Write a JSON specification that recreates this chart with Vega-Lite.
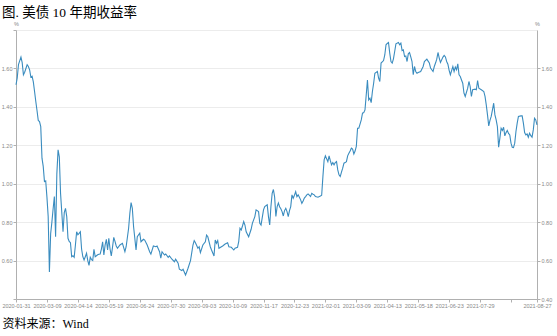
{
  "$schema": "https://vega.github.io/schema/vega-lite/v6.json",
  "width": 521,
  "height": 269,
  "autosize": {"type": "none"},
  "padding": {"left": 16, "top": 30, "right": 20, "bottom": 37},
  "background": "white",
  "title": {
    "text": "图. 美债 10 年期收益率",
    "anchor": "start",
    "frame": "group",
    "dx": -14,
    "offset": 2,
    "fontSize": 13.5,
    "font": "Liberation Serif, Noto Sans CJK SC",
    "fontWeight": "normal",
    "color": "#000000"
  },
  "config": {
    "view": {"stroke": null},
    "axis": {
      "labelFont": "Liberation Sans",
      "labelFontSize": 5.5,
      "labelColor": "#888888",
      "domainColor": "#b0b0b0",
      "tickColor": "#b0b0b0",
      "tickSize": 3,
      "gridColor": "#ececec",
      "gridWidth": 1
    }
  },
  "data": {
    "values": [
      {"day":0,"yield":1.515},{"day":1,"yield":1.55},{"day":2,"yield":1.62},{"day":4,"yield":1.659},{"day":5,"yield":1.63},{"day":6,"yield":1.567},{"day":7,"yield":1.58},{"day":9,"yield":1.619},{"day":10,"yield":1.61},{"day":11,"yield":1.593},{"day":12,"yield":1.555},{"day":13,"yield":1.56},{"day":14,"yield":1.53},{"day":15,"yield":1.48},{"day":16,"yield":1.428},{"day":17,"yield":1.38},{"day":18,"yield":1.329},{"day":19,"yield":1.323},{"day":20,"yield":1.297},{"day":21,"yield":1.133},{"day":22,"yield":1.09},{"day":23,"yield":1.011},{"day":24,"yield":1.015},{"day":25,"yield":0.93},{"day":26,"yield":0.829},{"day":27,"yield":0.54},{"day":28,"yield":0.74},{"day":29,"yield":0.8},{"day":30,"yield":0.87},{"day":31,"yield":0.933},{"day":32,"yield":0.724},{"day":33,"yield":1.05},{"day":34,"yield":1.176},{"day":35,"yield":1.14},{"day":36,"yield":0.95},{"day":37,"yield":0.85},{"day":38,"yield":0.75},{"day":39,"yield":0.85},{"day":40,"yield":0.872},{"day":41,"yield":0.829},{"day":42,"yield":0.716},{"day":43,"yield":0.7},{"day":44,"yield":0.693},{"day":45,"yield":0.62},{"day":46,"yield":0.625},{"day":47,"yield":0.617},{"day":48,"yield":0.68},{"day":49,"yield":0.75},{"day":50,"yield":0.735},{"day":51,"yield":0.742},{"day":52,"yield":0.75},{"day":53,"yield":0.66},{"day":54,"yield":0.62},{"day":55,"yield":0.603},{"day":56,"yield":0.62},{"day":57,"yield":0.638},{"day":58,"yield":0.6},{"day":59,"yield":0.575},{"day":60,"yield":0.617},{"day":61,"yield":0.605},{"day":62,"yield":0.6},{"day":63,"yield":0.659},{"day":64,"yield":0.62},{"day":65,"yield":0.625},{"day":66,"yield":0.63},{"day":67,"yield":0.633},{"day":68,"yield":0.634},{"day":69,"yield":0.66},{"day":70,"yield":0.698},{"day":71,"yield":0.629},{"day":72,"yield":0.68},{"day":73,"yield":0.711},{"day":74,"yield":0.655},{"day":75,"yield":0.716},{"day":76,"yield":0.66},{"day":77,"yield":0.624},{"day":78,"yield":0.67},{"day":79,"yield":0.721},{"day":80,"yield":0.7},{"day":81,"yield":0.676},{"day":82,"yield":0.664},{"day":84,"yield":0.681},{"day":86,"yield":0.69},{"day":88,"yield":0.646},{"day":89,"yield":0.672},{"day":91,"yield":0.768},{"day":92,"yield":0.846},{"day":93,"yield":0.902},{"day":94,"yield":0.872},{"day":95,"yield":0.777},{"day":97,"yield":0.655},{"day":98,"yield":0.724},{"day":100,"yield":0.742},{"day":101,"yield":0.698},{"day":103,"yield":0.711},{"day":104,"yield":0.707},{"day":106,"yield":0.681},{"day":108,"yield":0.646},{"day":109,"yield":0.634},{"day":111,"yield":0.676},{"day":113,"yield":0.672},{"day":114,"yield":0.676},{"day":116,"yield":0.646},{"day":117,"yield":0.612},{"day":118,"yield":0.646},{"day":120,"yield":0.629},{"day":121,"yield":0.634},{"day":123,"yield":0.617},{"day":124,"yield":0.624},{"day":126,"yield":0.607},{"day":128,"yield":0.594},{"day":129,"yield":0.607},{"day":131,"yield":0.586},{"day":132,"yield":0.555},{"day":134,"yield":0.548},{"day":135,"yield":0.555},{"day":137,"yield":0.525},{"day":138,"yield":0.542},{"day":139,"yield":0.56},{"day":141,"yield":0.6},{"day":142,"yield":0.64},{"day":143,"yield":0.681},{"day":144,"yield":0.704},{"day":145,"yield":0.693},{"day":147,"yield":0.664},{"day":148,"yield":0.672},{"day":149,"yield":0.641},{"day":151,"yield":0.681},{"day":153,"yield":0.698},{"day":154,"yield":0.733},{"day":155,"yield":0.724},{"day":157,"yield":0.672},{"day":158,"yield":0.655},{"day":160,"yield":0.624},{"day":161,"yield":0.707},{"day":162,"yield":0.69},{"day":163,"yield":0.704},{"day":164,"yield":0.664},{"day":166,"yield":0.672},{"day":167,"yield":0.676},{"day":169,"yield":0.686},{"day":171,"yield":0.693},{"day":172,"yield":0.672},{"day":174,"yield":0.669},{"day":176,"yield":0.655},{"day":177,"yield":0.664},{"day":179,"yield":0.669},{"day":180,"yield":0.7},{"day":181,"yield":0.768},{"day":182,"yield":0.759},{"day":183,"yield":0.78},{"day":184,"yield":0.803},{"day":185,"yield":0.785},{"day":186,"yield":0.75},{"day":188,"yield":0.724},{"day":190,"yield":0.763},{"day":191,"yield":0.794},{"day":193,"yield":0.829},{"day":194,"yield":0.864},{"day":196,"yield":0.855},{"day":197,"yield":0.794},{"day":198,"yield":0.785},{"day":200,"yield":0.864},{"day":201,"yield":0.881},{"day":203,"yield":0.89},{"day":204,"yield":0.829},{"day":205,"yield":0.785},{"day":206,"yield":0.881},{"day":207,"yield":0.95},{"day":208,"yield":0.97},{"day":209,"yield":0.93},{"day":210,"yield":0.83},{"day":211,"yield":0.88},{"day":212,"yield":0.9},{"day":213,"yield":0.88},{"day":214,"yield":0.87},{"day":215,"yield":0.855},{"day":216,"yield":0.832},{"day":217,"yield":0.86},{"day":218,"yield":0.872},{"day":219,"yield":0.855},{"day":220,"yield":0.829},{"day":221,"yield":0.86},{"day":222,"yield":0.881},{"day":223,"yield":0.942},{"day":224,"yield":0.924},{"day":225,"yield":0.94},{"day":226,"yield":0.959},{"day":227,"yield":0.933},{"day":228,"yield":0.942},{"day":229,"yield":0.93},{"day":230,"yield":0.916},{"day":231,"yield":0.898},{"day":232,"yield":0.91},{"day":233,"yield":0.925},{"day":234,"yield":0.933},{"day":235,"yield":0.942},{"day":236,"yield":0.947},{"day":237,"yield":0.94},{"day":238,"yield":0.933},{"day":239,"yield":0.95},{"day":240,"yield":0.945},{"day":241,"yield":0.942},{"day":242,"yield":0.933},{"day":244,"yield":0.93},{"day":246,"yield":0.936},{"day":247,"yield":0.94},{"day":248,"yield":1.037},{"day":249,"yield":1.124},{"day":250,"yield":1.145},{"day":252,"yield":1.115},{"day":253,"yield":1.145},{"day":254,"yield":1.12},{"day":255,"yield":1.098},{"day":256,"yield":1.11},{"day":257,"yield":1.098},{"day":258,"yield":1.11},{"day":259,"yield":1.115},{"day":260,"yield":1.072},{"day":261,"yield":1.046},{"day":262,"yield":1.037},{"day":263,"yield":1.06},{"day":264,"yield":1.081},{"day":265,"yield":1.107},{"day":266,"yield":1.11},{"day":267,"yield":1.115},{"day":268,"yield":1.145},{"day":269,"yield":1.159},{"day":270,"yield":1.17},{"day":271,"yield":1.185},{"day":272,"yield":1.18},{"day":273,"yield":1.155},{"day":274,"yield":1.17},{"day":275,"yield":1.194},{"day":276,"yield":1.289},{"day":277,"yield":1.289},{"day":278,"yield":1.31},{"day":279,"yield":1.332},{"day":280,"yield":1.367},{"day":281,"yield":1.37},{"day":282,"yield":1.384},{"day":284,"yield":1.54},{"day":285,"yield":1.436},{"day":286,"yield":1.445},{"day":287,"yield":1.422},{"day":288,"yield":1.48},{"day":289,"yield":1.523},{"day":290,"yield":1.575},{"day":292,"yield":1.584},{"day":293,"yield":1.55},{"day":294,"yield":1.532},{"day":295,"yield":1.628},{"day":297,"yield":1.641},{"day":298,"yield":1.67},{"day":299,"yield":1.723},{"day":300,"yield":1.73},{"day":301,"yield":1.735},{"day":302,"yield":1.68},{"day":303,"yield":1.636},{"day":304,"yield":1.628},{"day":305,"yield":1.65},{"day":306,"yield":1.688},{"day":307,"yield":1.728},{"day":309,"yield":1.735},{"day":310,"yield":1.723},{"day":311,"yield":1.732},{"day":312,"yield":1.693},{"day":313,"yield":1.697},{"day":314,"yield":1.662},{"day":315,"yield":1.665},{"day":316,"yield":1.636},{"day":317,"yield":1.676},{"day":318,"yield":1.683},{"day":319,"yield":1.66},{"day":320,"yield":1.636},{"day":321,"yield":1.567},{"day":322,"yield":1.61},{"day":323,"yield":1.584},{"day":324,"yield":1.575},{"day":325,"yield":1.579},{"day":327,"yield":1.584},{"day":329,"yield":1.61},{"day":330,"yield":1.636},{"day":332,"yield":1.648},{"day":333,"yield":1.638},{"day":334,"yield":1.628},{"day":335,"yield":1.602},{"day":337,"yield":1.584},{"day":338,"yield":1.61},{"day":339,"yield":1.628},{"day":340,"yield":1.648},{"day":341,"yield":1.683},{"day":342,"yield":1.654},{"day":343,"yield":1.631},{"day":345,"yield":1.659},{"day":346,"yield":1.668},{"day":347,"yield":1.66},{"day":348,"yield":1.636},{"day":349,"yield":1.622},{"day":350,"yield":1.59},{"day":351,"yield":1.567},{"day":352,"yield":1.589},{"day":353,"yield":1.61},{"day":354,"yield":1.584},{"day":355,"yield":1.607},{"day":356,"yield":1.593},{"day":357,"yield":1.624},{"day":358,"yield":1.567},{"day":359,"yield":1.558},{"day":360,"yield":1.54},{"day":361,"yield":1.523},{"day":362,"yield":1.471},{"day":363,"yield":1.454},{"day":365,"yield":1.497},{"day":366,"yield":1.532},{"day":367,"yield":1.506},{"day":368,"yield":1.454},{"day":369,"yield":1.489},{"day":371,"yield":1.492},{"day":372,"yield":1.489},{"day":373,"yield":1.537},{"day":374,"yield":1.497},{"day":376,"yield":1.489},{"day":378,"yield":1.48},{"day":379,"yield":1.454},{"day":380,"yield":1.41},{"day":381,"yield":1.358},{"day":382,"yield":1.301},{"day":383,"yield":1.33},{"day":384,"yield":1.35},{"day":385,"yield":1.384},{"day":386,"yield":1.419},{"day":387,"yield":1.358},{"day":388,"yield":1.332},{"day":389,"yield":1.297},{"day":390,"yield":1.19},{"day":391,"yield":1.237},{"day":392,"yield":1.289},{"day":393,"yield":1.277},{"day":394,"yield":1.294},{"day":395,"yield":1.249},{"day":396,"yield":1.266},{"day":397,"yield":1.277},{"day":398,"yield":1.262},{"day":399,"yield":1.254},{"day":400,"yield":1.211},{"day":401,"yield":1.19},{"day":402,"yield":1.188},{"day":403,"yield":1.211},{"day":404,"yield":1.272},{"day":405,"yield":1.315},{"day":406,"yield":1.35},{"day":408,"yield":1.353},{"day":409,"yield":1.353},{"day":410,"yield":1.315},{"day":411,"yield":1.266},{"day":412,"yield":1.254},{"day":413,"yield":1.259},{"day":414,"yield":1.242},{"day":415,"yield":1.263},{"day":416,"yield":1.25},{"day":417,"yield":1.242},{"day":418,"yield":1.28},{"day":419,"yield":1.341},{"day":420,"yield":1.332},{"day":421,"yield":1.306}
    ]
  },
  "encoding": {
    "x": {
      "field": "day",
      "type": "quantitative",
      "scale": {"domain": [0, 421], "nice": false, "zero": false},
      "axis": {
        "values": [0, 25, 50, 75, 100, 125, 150, 175, 200, 225, 250, 275, 300, 325, 350, 375, 400, 421],
        "labelExpr": "datum.value == 421 ? '2021-08-27' : ['2020-01-31','2020-03-09','2020-04-14','2020-05-19','2020-06-24','2020-07-30','2020-09-03','2020-10-09','2020-11-17','2020-12-23','2021-02-01','2021-03-09','2021-04-13','2021-05-18','2021-06-23','2021-07-29'][round(datum.value / 25)]",
        "labelOverlap": false,
        "labelFlush": false,
        "labelPadding": 1,
        "grid": false,
        "title": "资料来源：Wind",
        "titleFont": "Liberation Serif, Noto Sans CJK SC",
        "titleFontSize": 12,
        "titleFontWeight": "normal",
        "titleColor": "#000000",
        "titleAnchor": "start",
        "titleAlign": "left",
        "titleBaseline": "middle",
        "titleX": -14,
        "titleY": 24
      }
    }
  },
  "layer": [
    {
      "mark": {"type": "line", "color": "#3a8cbf", "strokeWidth": 1.1},
      "encoding": {
        "y": {
          "field": "yield",
          "type": "quantitative",
          "scale": {"domain": [0.4, 1.8], "nice": false, "zero": false},
          "axis": {
            "orient": "left",
            "values": [0.4, 0.6, 0.8, 1.0, 1.2, 1.4, 1.6, 1.8],
            "labelExpr": "datum.value < 0.5 || datum.value > 1.7 ? '' : format(datum.value, '.2f')",
            "grid": true,
            "labelPadding": 1,
            "title": "%",
            "titleAngle": 0,
            "titleFontSize": 5.5,
            "titleFontWeight": "normal",
            "titleColor": "#888888",
            "titleAlign": "center",
            "titleBaseline": "bottom",
            "titleX": 0,
            "titleY": -4
          }
        }
      }
    },
    {
      "mark": {"type": "line", "color": "#3a8cbf", "strokeOpacity": 0},
      "encoding": {
        "y": {
          "field": "yield",
          "type": "quantitative",
          "scale": {"domain": [0.4, 1.8], "nice": false, "zero": false},
          "axis": {
            "orient": "right",
            "values": [0.4, 0.6, 0.8, 1.0, 1.2, 1.4, 1.6],
            "format": ".2f",
            "grid": false,
            "labelPadding": 1,
            "title": "%",
            "titleAngle": 0,
            "titleFontSize": 5.5,
            "titleFontWeight": "normal",
            "titleColor": "#888888",
            "titleAlign": "center",
            "titleBaseline": "bottom",
            "titleX": 0,
            "titleY": -4
          }
        }
      }
    }
  ],
  "resolve": {"axis": {"y": "independent"}}
}
